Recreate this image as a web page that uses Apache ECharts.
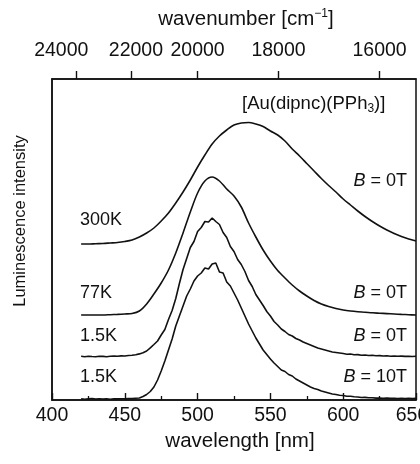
<!DOCTYPE html>
<html><head><meta charset="utf-8">
<script src="https://cdn.jsdelivr.net/npm/echarts@6/dist/echarts.min.js"></script>
<style>html,body{margin:0;padding:0;background:#fff}#c{width:420px;height:464px}</style>
</head><body><div id="c"></div>
<script>
// ---- data ----
const wlCoarse = [420,425,430,435,440,445,450,455,460,465,470,475,480,485,490,495,500,505,510,515,520,525,530,535,540,545,550,555,560,565,570,575,580,585,590,595,600,605,610,615,620,625,630,635,640,645,650];
const int300K = [0,0,0.3,0.5,1,1.5,2.5,4,7,11,16,23,31,41,52,64,77,89,100,108,114,119,121,121.5,120,117.5,113,109,103,95,88,80.5,73,65.5,58.5,52,45,39,33,27.5,22.5,18,14,10.5,7.5,5,3];
const int77K = [0,0,0,0,0.3,0.6,1,1.5,4,11,21,32,45,62,82,103,122,134,138,134,126,119,108,92,78,65,54,44.5,37,30,24,19,14.5,11,8.5,6.5,5,4,3.3,2.8,2.2,1.8,1.4,1,0.6,0.3,0];
const wlFine = [420,422.5,425,427.5,430,432.5,435,437.5,440,442.5,445,447.5,450,452.5,455,457.5,460,462.5,465,467.5,470,472.5,475,477.5,480,482.5,485,487.5,490,492.5,495,497.5,500,502.5,505,507.5,510,512.5,515,517.5,520,522.5,525,527.5,530,532.5,535,537.5,540,542.5,545,547.5,550,552.5,555,557.5,560,562.5,565,567.5,570,572.5,575,577.5,580,582.5,585,587.5,590,592.5,595,597.5,600,602.5,605,607.5,610,612.5,615,617.5,620,622.5,625,627.5,630,632.5,635,637.5,640,642.5,645,647.5,650];
const int15K0T = [0.2,-0.3,0.3,0,-0.2,0.3,0.1,-0.2,0.2,0.4,0.2,0.6,0.5,1.0,1.2,1.8,2.6,3.8,5.5,8.6,12,15.5,21.5,27,37,46,58,73,87,98,109,115,125,129,135,134.5,138.5,135,132,124,119,110,105,97,92,85,76,70,62,56.5,51,45,40.5,35,31.5,27.5,25,22,20.5,18,16.5,14.5,13,11.5,10,8.5,7.5,6.5,5.5,4.5,4,3.5,3,2.3,2.5,1.8,1.9,1.3,1.5,1,1.2,0.7,0.9,0.5,0.7,0.3,0.5,0.2,0.4,0.1,0.3,0,0.2];
const int15K10T = [0.3,-0.2,0.2,0.5,-0.1,0.2,0,0.3,-0.2,0.2,0.1,0.3,0.2,0.5,0.4,0.8,1,2.5,4.5,7.5,12,19,28,38,49,60,73,83,93,103,110,118,123,126,131,130,135,136,127,126,117,113,106,99,91,83,75,68,61,55,49,44.5,40,36,32.5,29,27.5,24.5,23,20,18,16,14,12,10.5,9.5,8,7,6,5,4.5,3.8,3.5,2.8,2.7,2.2,2,1.5,1.6,1.2,1.3,0.9,1,0.7,0.9,0.6,0.8,0.5,0.7,0.5,0.7,0.4,0.6];
const baselines = [156, 85, 43.5, 1];            // vertical offset of each trace
const tempLabels = ['300K', '77K', '1.5K', '1.5K'];
const fieldLabels = ['0T', '0T', '0T', '10T'];
const wavelengthTicks = [400, 450, 500, 550, 600, 650];
const wavenumberTicks = [24000, 22000, 20000, 18000, 16000];

// ---- chart ----
const FONT = '"Liberation Sans", Arial, Helvetica, sans-serif';
const INK = '#111';
const chart = echarts.init(document.getElementById('c'), null, {renderer: 'canvas'});

function pairs(wl, vals, base) { return wl.map((w, i) => [w, vals[i] + base]); }
const traces = [
  pairs(wlCoarse, int300K, baselines[0]),
  pairs(wlCoarse, int77K, baselines[1]),
  pairs(wlFine, int15K0T, baselines[2]),
  pairs(wlFine, int15K10T, baselines[3])
];

const labelY = [220, 293, 336, 377];
const fieldY = [181, 293, 336, 377];
const graphics = [];
tempLabels.forEach((t, i) => graphics.push({
  type: 'text', x: 80, y: labelY[i],
  style: {text: t, font: '18px ' + FONT, fill: INK, align: 'left', verticalAlign: 'middle'}
}));
fieldLabels.forEach((f, i) => graphics.push({
  type: 'text', x: 407, y: fieldY[i],
  style: {
    text: '{i|B} = ' + f, font: '18px ' + FONT, fill: INK, align: 'right', verticalAlign: 'middle',
    rich: {i: {fontStyle: 'italic', fontSize: 18, fontFamily: FONT, fill: INK}}
  }
}));
graphics.push({
  type: 'text', x: 242, y: 104,
  style: {
    text: '[Au(dipnc)(PPh{s|3})]', font: '18.5px ' + FONT, fill: INK, align: 'left', verticalAlign: 'middle',
    rich: {s: {fontSize: 12, fontFamily: FONT, fill: INK, padding: [10, 0, 0, 0]}}
  }
});
graphics.push({
  type: 'text', x: 246, y: 19,
  style: {
    text: 'wavenumber [cm{s|−1}]', font: '20.5px ' + FONT, fill: INK, align: 'center', verticalAlign: 'middle',
    rich: {s: {fontSize: 12, fontFamily: FONT, fill: INK, padding: [0, 0, 10, 0]}}
  }
});
graphics.push({
  type: 'text', x: 240, y: 441,
  style: {text: 'wavelength [nm]', font: '20.5px ' + FONT, fill: INK, align: 'center', verticalAlign: 'middle'}
});
graphics.push({
  type: 'text', x: 20, y: 221, rotation: Math.PI / 2,
  style: {text: 'Luminescence intensity', font: '16.5px ' + FONT, fill: INK, align: 'center', verticalAlign: 'middle'}
});

const option = {
  animation: false,
  backgroundColor: '#fff',
  grid: {left: 52, right: 4, top: 79, bottom: 64, outerBoundsMode: 'none', containLabel: false,
    show: true, borderColor: INK, borderWidth: 1.5, backgroundColor: 'transparent'},
  xAxis: [
    {
      type: 'value', position: 'bottom', min: 400, max: 650, interval: 50,
      axisLine: {show: true, lineStyle: {color: INK, width: 1.5}},
      axisTick: {show: true, inside: true, length: 7, lineStyle: {color: INK, width: 1.4}},
      minorTick: {show: true, splitNumber: 2, length: 4, lineStyle: {color: INK, width: 1.3}},
      axisLabel: {color: INK, fontSize: 19.5, fontFamily: FONT, margin: 6,
        customValues: wavelengthTicks,
        formatter: v => (v === 650 ? '{e|' + v + '}' : '{n|' + v + '}'),
        rich: {
          e: {fontSize: 19.5, fontFamily: FONT, color: INK, padding: [0, 8, 0, 0]},
          n: {fontSize: 19.5, fontFamily: FONT, color: INK}
        }},
      splitLine: {show: false}
    },
    {
      type: 'value', position: 'top', min: 400, max: 650,
      axisLine: {show: true, lineStyle: {color: INK, width: 1.5}},
      axisTick: {show: true, inside: false, length: 8, lineStyle: {color: INK, width: 1.4},
        customValues: wavenumberTicks.map(k => 1e7 / k)},
      axisLabel: {color: INK, fontSize: 19.5, fontFamily: FONT, margin: 18,
        customValues: wavenumberTicks.map(k => 1e7 / k),
        formatter: v => {
          const k = Math.round(1e7 / v / 100) * 100;
          if (k === 24000) return '{a|' + k + '}';
          if (k === 22000) return '{c|' + k + '}';
          return '{b|' + k + '}';
        },
        rich: {
          a: {fontSize: 19.5, fontFamily: FONT, color: INK, padding: [0, 30, 0, 0]},
          c: {fontSize: 19.5, fontFamily: FONT, color: INK, padding: [0, 0, 0, 9]},
          b: {fontSize: 19.5, fontFamily: FONT, color: INK}
        }},
      splitLine: {show: false}
    }
  ],
  yAxis: {
    type: 'value', min: 0, max: 321,
    axisLine: {show: true, lineStyle: {color: INK, width: 1.5}},
    axisTick: {show: false}, axisLabel: {show: false}, splitLine: {show: false}
  },
  series: traces.map((d, i) => ({
    type: 'line', data: d, xAxisIndex: 0, showSymbol: false,
    smooth: i < 2 ? 0.3 : false,
    lineStyle: {color: INK, width: 1.6}, silent: true
  })),
  graphic: graphics
};
chart.setOption(option);
</script></body></html>
